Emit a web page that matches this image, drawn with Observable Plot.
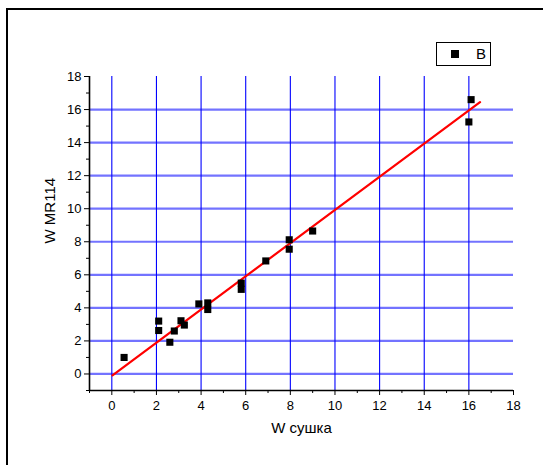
<!DOCTYPE html>
<html>
<head>
<meta charset="utf-8">
<script src="https://cdn.jsdelivr.net/npm/d3@7"></script>
<script src="https://cdn.jsdelivr.net/npm/@observablehq/plot@0.6"></script>
<style>
  html, body { margin: 0; padding: 0; background: #fff; }
  #wrap { position: relative; width: 543px; height: 465px; overflow: hidden; font-family: "Liberation Sans", Arial, sans-serif; }
  #wrap svg { position: absolute; left: 0; top: 0; }
  #frame { position: absolute; left: 6px; top: 8px; right: -10px; bottom: -10px; border-left: 2px solid #000; border-top: 2px solid #000; pointer-events: none; }
  #legend { position: absolute; left: 436px; top: 42px; width: 53px; height: 22px; border: 1px solid #000; background: #fff; }
  #legend .sw { position: absolute; left: 14px; top: 7px; width: 8px; height: 8px; background: #000; }
  #legend .lb { position: absolute; left: 39px; top: 2px; font-size: 15px; line-height: 18px; color: #000; }
</style>
</head>
<body>
<div id="wrap">
  <div id="frame"></div>
</div>
<script>
// Data
const xValues = [0.55, 2.1, 2.1, 2.6, 2.8, 3.1, 3.25, 3.9, 4.3, 4.3, 5.8, 5.8, 6.9, 7.95, 7.95, 9.0, 16.1, 16.0];
const yValues = [1.0, 3.2, 2.63, 1.92, 2.6, 3.22, 2.96, 4.24, 4.3, 3.9, 5.5, 5.12, 6.84, 8.12, 7.55, 8.65, 16.6, 15.25];
const fitX = [0.03, 16.5];
const fitY = [-0.08, 16.45];
const xTicks = [0, 2, 4, 6, 8, 10, 12, 14, 16, 18];
const xMinor = [-1, 1, 3, 5, 7, 9, 11, 13, 15, 17];
const yTicks = [0, 2, 4, 6, 8, 10, 12, 14, 16, 18];
const yMinor = [-1, 1, 3, 5, 7, 9, 11, 13, 15, 17];
const xTitle = "W сушка";
const yTitle = "W MR114";
const seriesName = "B";

const points = xValues.map((x, i) => ({x, y: yValues[i]}));
const fit = fitX.map((x, i) => ({x, y: fitY[i]}));

const chart = Plot.plot({
  width: 543,
  height: 465,
  marginLeft: 89,
  marginRight: 30,
  marginTop: 76,
  marginBottom: 75,
  style: {fontFamily: "'Liberation Sans', Arial, sans-serif", fontSize: "13px", color: "#000", background: "transparent"},
  x: {domain: [-1, 18]},
  y: {domain: [-1, 18]},
  marks: [
    Plot.ruleY(yTicks.filter(d => d < 18), {stroke: "#0000ff", strokeOpacity: 0.55, strokeWidth: 2.2}),
    Plot.ruleX(xTicks.filter(d => d < 18), {stroke: "#0000ff", strokeWidth: 1.1}),
    Plot.line(fit, {x: "x", y: "y", stroke: "#ff0000", strokeWidth: 2.2}),
    Plot.dot(points, {x: "x", y: "y", symbol: "square", r: 4, fill: "#000", stroke: "none"}),
    Plot.ruleX([-1], {stroke: "#000", strokeWidth: 1.6}),
    Plot.ruleY([-1], {stroke: "#000", strokeWidth: 1.6}),
    Plot.axisX({ticks: xTicks, tickSize: 5, tickPadding: 5, label: null, stroke: "#000"}),
    Plot.axisX({ticks: xMinor, tickSize: 3, tickFormat: () => "", label: null, stroke: "#000"}),
    Plot.axisY({ticks: yTicks, tickSize: 5, tickPadding: 3, label: null, stroke: "#000"}),
    Plot.axisY({ticks: yMinor, tickSize: 3, tickFormat: () => "", label: null, stroke: "#000"}),
    Plot.text([xTitle], {frameAnchor: "bottom", dy: 42, fontSize: 15, fill: "#000"}),
    Plot.text([yTitle], {frameAnchor: "left", rotate: -90, dx: -39, dy: 10, fontSize: 15, fill: "#000"})
  ]
});
document.getElementById("wrap").appendChild(chart);

const legend = document.createElement("div");
legend.id = "legend";
legend.innerHTML = '<div class="sw"></div><div class="lb"></div>';
legend.querySelector(".lb").textContent = seriesName;
document.getElementById("wrap").appendChild(legend);
</script>
</body>
</html>
